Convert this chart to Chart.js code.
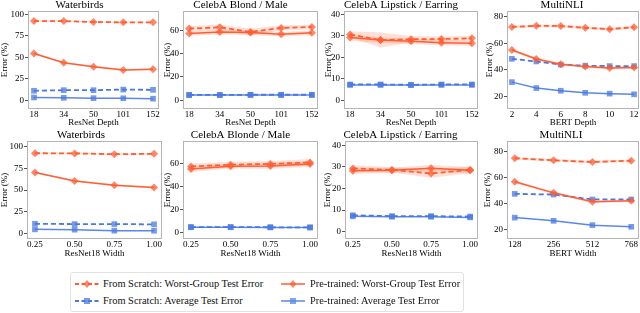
<!DOCTYPE html>
<html>
<head>
<meta charset="utf-8">
<script src="https://cdn.jsdelivr.net/npm/chart.js@4.4.0/dist/chart.umd.min.js"></script>
<style>
body { margin: 0; width: 640px; height: 313px; background: #fff; position: relative; overflow: hidden; font-family: "Liberation Serif", serif; }
canvas { position: absolute; }
#legend { position: absolute; left: 70px; top: 272px; width: 392px; height: 38px; border: 1px solid #e2e2e2; border-radius: 3px; }
.sym { position: absolute; }
.txt { position: absolute; font-size: 10.4px; line-height: 12px; color: #111; white-space: nowrap; }
</style>
</head>
<body>
<canvas id="c1"></canvas>
<canvas id="c2"></canvas>
<canvas id="c3"></canvas>
<canvas id="c4"></canvas>
<canvas id="c5"></canvas>
<canvas id="c6"></canvas>
<canvas id="c7"></canvas>
<canvas id="c8"></canvas>
<div id="legend">
  <svg class="sym" style="left:4px;top:6px" width="24" height="10"><line x1="0" y1="5" x2="24" y2="5" stroke="#ff5e33" stroke-width="1.8" stroke-dasharray="4,2.5"/><polygon points="12,1 15.5,5 12,9 8.5,5" fill="rgba(255,94,51,0.75)"/></svg>
  <span class="txt" style="left:32px;top:5px">From Scratch: Worst-Group Test Error</span>
  <svg class="sym" style="left:210px;top:6px" width="24" height="10"><line x1="0" y1="5" x2="24" y2="5" stroke="#ff5e33" stroke-width="1.5"/><polygon points="12,1 15.5,5 12,9 8.5,5" fill="rgba(255,94,51,0.75)"/></svg>
  <span class="txt" style="left:239px;top:5px">Pre-trained: Worst-Group Test Error</span>
  <svg class="sym" style="left:4px;top:23px" width="24" height="10"><line x1="0" y1="5" x2="24" y2="5" stroke="#4a78e0" stroke-width="1.8" stroke-dasharray="4,2.5"/><rect x="9" y="2" width="6" height="6" fill="rgba(74,120,224,0.75)"/></svg>
  <span class="txt" style="left:32px;top:22px">From Scratch: Average Test Error</span>
  <svg class="sym" style="left:210px;top:23px" width="24" height="10"><line x1="0" y1="5" x2="24" y2="5" stroke="#5b86ea" stroke-width="1.5"/><rect x="9" y="2" width="6" height="6" fill="rgba(91,134,234,0.75)"/></svg>
  <span class="txt" style="left:239px;top:22px">Pre-trained: Average Test Error</span>
</div>
<script>
// x tick labels
const depthLabels = ['18', '34', '50', '101', '152'];
const bertDepthLabels = ['2', '4', '6', '8', '10', '12'];
const widthLabels = ['0.25', '0.50', '0.75', '1.00'];
const bertWidthLabels = ['128', '256', '512', '768'];

// Waterbirds, ResNet depth
const wbDepthScratchWorst = [92.3, 92.3, 91.2, 90.8, 90.8];
const wbDepthPreWorst = [54.6, 43.8, 39.2, 35.4, 36.2];
const wbDepthScratchAvg = [11.2, 11.9, 11.9, 12.6, 12.3];
const wbDepthPreAvg = [3.4, 3, 2.6, 2.5, 2];
const wbDepthScratchSd = [1, 1, 1, 1, 1];
const wbDepthPreSd = [1.2, 1, 1, 1, 1];

// CelebA Blond / Male, ResNet depth
const cbDepthScratchWorst = [61.4, 62.5, 58.6, 62, 62.8];
const cbDepthPreWorst = [57.2, 58.4, 58, 56.6, 57.8];
const cbDepthScratchAvg = [4.6, 4.6, 4.7, 4.7, 4.7];
const cbDepthPreAvg = [4.4, 4.4, 4.5, 4.5, 4.5];
const cbDepthScratchSd = [2, 2.5, 3, 2, 2];
const cbDepthPreSd = [2, 2, 2, 2, 2];

// CelebA Lipstick / Earring, ResNet depth
const clDepthScratchWorst = [30.6, 28, 28.4, 28.5, 28.8];
const clDepthPreWorst = [29.2, 28, 27.4, 26.8, 26.5];
const clDepthScratchAvg = [7.4, 7.4, 7.2, 7.4, 7.4];
const clDepthPreAvg = [7.2, 7.2, 7.1, 7.2, 7.2];
const clDepthScratchSd = [1.5, 3.5, 1.5, 1.2, 1.2];
const clDepthPreSd = [1.5, 1.2, 1.2, 1.2, 1.2];

// MultiNLI, BERT depth
const mnDepthScratchWorst = [72.5, 73.3, 73.2, 71.8, 70.8, 72.3];
const mnDepthPreWorst = [55, 48.3, 44.3, 42.5, 41.4, 41.9];
const mnDepthScratchAvg = [48.4, 46.4, 44, 43.2, 42.9, 42.9];
const mnDepthPreAvg = [30.8, 26.3, 24.3, 22.7, 22.1, 21.6];
const mnDepthScratchSd = [1, 1, 1, 1, 1, 1];
const mnDepthPreSd = [1, 1, 1, 1, 1, 1];

// Waterbirds, ResNet18 width
const wbWidthScratchWorst = [92.4, 92.2, 91.3, 91.7];
const wbWidthPreWorst = [70.3, 60.5, 55.5, 52.9];
const wbWidthScratchAvg = [11.1, 10.7, 10.7, 10.4];
const wbWidthPreAvg = [4.6, 4.2, 3.1, 3];
const wbWidthScratchSd = [1, 1, 1, 1];
const wbWidthPreSd = [1, 1, 1, 1.2];

// CelebA Blonde / Male, ResNet18 width
const cbWidthScratchWorst = [57.4, 58.9, 59.6, 60.9];
const cbWidthPreWorst = [55.1, 57.6, 57.8, 59.4];
const cbWidthScratchAvg = [4.7, 4.7, 4.5, 4.4];
const cbWidthPreAvg = [4.5, 4.5, 4.4, 4.3];
const cbWidthScratchSd = [2.5, 2.5, 2.5, 3];
const cbWidthPreSd = [2.5, 2, 2.5, 2.5];

// CelebA Lipstick / Earring, ResNet18 width
const clWidthScratchWorst = [29.3, 28.6, 27, 28.6];
const clWidthPreWorst = [28.2, 28.4, 29.4, 28.4];
const clWidthScratchAvg = [7.6, 7.2, 7.2, 7];
const clWidthPreAvg = [7.1, 6.9, 6.9, 6.6];
const clWidthScratchSd = [1.5, 1.2, 2, 1.5];
const clWidthPreSd = [1.5, 1.2, 1.5, 1.5];

// MultiNLI, BERT width
const mnWidthScratchWorst = [74.9, 73.3, 72, 73];
const mnWidthPreWorst = [56.8, 48.2, 41.3, 42.1];
const mnWidthScratchAvg = [47.4, 46.9, 43.1, 43.1];
const mnWidthPreAvg = [29.1, 26.6, 23.3, 22];
const mnWidthScratchSd = [1, 1, 1, 1];
const mnWidthPreSd = [1, 1, 1, 1];

const ORANGE = '#ff5e33';
const ORANGE_PT = 'rgba(255,94,51,0.75)';
const BAND = 'rgba(255,110,70,0.22)';
const BLUE = '#4a78e0';
const BLUE2 = '#5b86ea';
const BLUE_PT = 'rgba(74,120,224,0.75)';
const FONT = 'Liberation Serif';

const panels = [
  { id: 'c1', title: 'Waterbirds', xTitle: 'ResNet Depth', labels: depthLabels, yTicks: [0, 25, 50, 75, 100], yMin: -10, yMax: 104,
    sw: wbDepthScratchWorst, pw: wbDepthPreWorst, sa: wbDepthScratchAvg, pa: wbDepthPreAvg, ssd: wbDepthScratchSd, psd: wbDepthPreSd },
  { id: 'c2', title: 'CelebA Blond / Male', xTitle: 'ResNet Depth', labels: depthLabels, yTicks: [0, 20, 40, 60], yMin: -7.5, yMax: 76.5,
    sw: cbDepthScratchWorst, pw: cbDepthPreWorst, sa: cbDepthScratchAvg, pa: cbDepthPreAvg, ssd: cbDepthScratchSd, psd: cbDepthPreSd },
  { id: 'c3', title: 'CelebA Lipstick / Earring', xTitle: 'ResNet Depth', labels: depthLabels, yTicks: [0, 10, 20, 30, 40], yMin: -4, yMax: 41.5,
    sw: clDepthScratchWorst, pw: clDepthPreWorst, sa: clDepthScratchAvg, pa: clDepthPreAvg, ssd: clDepthScratchSd, psd: clDepthPreSd },
  { id: 'c4', title: 'MultiNLI', xTitle: 'BERT Depth', labels: bertDepthLabels, yTicks: [20, 40, 60, 80], yMin: 10.5, yMax: 84.5,
    sw: mnDepthScratchWorst, pw: mnDepthPreWorst, sa: mnDepthScratchAvg, pa: mnDepthPreAvg, ssd: mnDepthScratchSd, psd: mnDepthPreSd },
  { id: 'c5', title: 'Waterbirds', xTitle: 'ResNet18 Width', labels: widthLabels, yTicks: [0, 25, 50, 75, 100], yMin: -6.5, yMax: 106.5,
    sw: wbWidthScratchWorst, pw: wbWidthPreWorst, sa: wbWidthScratchAvg, pa: wbWidthPreAvg, ssd: wbWidthScratchSd, psd: wbWidthPreSd },
  { id: 'c6', title: 'CelebA Blonde / Male', xTitle: 'ResNet18 Width', labels: widthLabels, yTicks: [0, 20, 40, 60], yMin: -5.7, yMax: 79.5,
    sw: cbWidthScratchWorst, pw: cbWidthPreWorst, sa: cbWidthScratchAvg, pa: cbWidthPreAvg, ssd: cbWidthScratchSd, psd: cbWidthPreSd },
  { id: 'c7', title: 'CelebA Lipstick / Earring', xTitle: 'ResNet18 Width', labels: widthLabels, yTicks: [0, 10, 20, 30, 40], yMin: -3.4, yMax: 42,
    sw: clWidthScratchWorst, pw: clWidthPreWorst, sa: clWidthScratchAvg, pa: clWidthPreAvg, ssd: clWidthScratchSd, psd: clWidthPreSd },
  { id: 'c8', title: 'MultiNLI', xTitle: 'BERT Width', labels: bertWidthLabels, yTicks: [20, 40, 60, 80], yMin: 12.6, yMax: 88.2,
    sw: mnWidthScratchWorst, pw: mnWidthPreWorst, sa: mnWidthScratchAvg, pa: mnWidthPreAvg, ssd: mnWidthScratchSd, psd: mnWidthPreSd }
];

// frame position of each panel: left, right, top, bottom, y-axis width, x-axis height
const frames = [
  [28, 159, 11, 109, 28, 18], [183, 318, 11, 109, 20, 18], [344, 478, 11, 109, 20, 18], [507, 639, 11, 109, 22, 18],
  [27, 162, 141, 239, 27, 19], [183, 318, 141, 239, 20, 19], [345, 478, 141, 239, 22, 19], [507, 639, 141, 239, 24, 19]
];

const framePlugin = {
  id: 'frame',
  afterDraw(chart) {
    const a = chart.chartArea, ctx = chart.ctx;
    ctx.save();
    ctx.strokeStyle = '#b4b4b4';
    ctx.lineWidth = 1;
    ctx.strokeRect(Math.round(a.left) + 0.5, Math.round(a.top) + 0.5, Math.round(a.right - a.left) - 1, Math.round(a.bottom - a.top) - 1);
    ctx.restore();
  }
};

function pts(arr) { return arr.map((v, i) => ({ x: i, y: v })); }

function lineSet(arr, color, ptColor, dashed, style) {
  return {
    data: pts(arr), borderColor: color, borderWidth: dashed ? 1.8 : 1.5, borderDash: dashed ? [5, 3] : [],
    pointStyle: style, pointRadius: 4, pointHoverRadius: 4, pointBackgroundColor: ptColor, pointBorderWidth: 0,
    fill: false, tension: 0
  };
}

function bandSets(arr, sd) {
  return [
    { data: pts(arr.map((v, i) => v + sd[i])), borderWidth: 0, pointRadius: 0, fill: false },
    { data: pts(arr.map((v, i) => v - sd[i])), borderWidth: 0, pointRadius: 0, fill: '-1', backgroundColor: BAND }
  ];
}

panels.forEach((p, k) => {
  const [fl, fr, ft, fb, yw, xh] = frames[k];
  const cv = document.getElementById(p.id);
  const w = yw + (fr - fl) + 6;
  const h = 11 + (fb - ft) + xh;
  cv.width = w; cv.height = h;
  cv.style.left = (fl - yw) + 'px';
  cv.style.top = (ft - 11) + 'px';
  const n = p.labels.length;
  const labels = p.labels;
  const yTicks = p.yTicks;
  new Chart(cv, {
    type: 'line',
    data: {
      datasets: [
        lineSet(p.sw, ORANGE, ORANGE_PT, true, 'rectRot'),
        lineSet(p.pw, ORANGE, ORANGE_PT, false, 'rectRot'),
        lineSet(p.sa, BLUE, BLUE_PT, true, 'rect'),
        lineSet(p.pa, BLUE2, BLUE_PT, false, 'rect'),
        ...bandSets(p.sw, p.ssd),
        ...bandSets(p.pw, p.psd)
      ]
    },
    options: {
      responsive: false,
      animation: false,
      layout: { padding: { left: 0, right: 6, top: 0, bottom: 0 } },
      plugins: {
        legend: { display: false },
        tooltip: { enabled: false },
        title: { display: true, text: p.title, color: '#000', padding: 0,
                 font: { family: FONT, size: 11, weight: 'normal', lineHeight: 1 } }
      },
      scales: {
        x: {
          type: 'linear', min: -0.2, max: n - 1 + 0.2,
          afterBuildTicks: s => { s.ticks = labels.map((_, i) => ({ value: i })); },
          afterFit: s => { s.height = xh; s.paddingLeft = 0; s.paddingRight = 0; },
          ticks: { callback: (v, i) => labels[i], color: '#000', padding: 1, maxRotation: 0, autoSkip: false,
                   font: { family: FONT, size: 9, lineHeight: 1 } },
          grid: { drawOnChartArea: false, drawTicks: false },
          border: { display: false },
          title: { display: true, text: p.xTitle, color: '#000', padding: 0, font: { family: FONT, size: 9, lineHeight: 1 } }
        },
        y: {
          min: p.yMin, max: p.yMax,
          afterBuildTicks: s => { s.ticks = yTicks.map(v => ({ value: v })); },
          afterFit: s => { s.width = yw; s.paddingTop = 0; s.paddingBottom = 0; },
          ticks: { color: '#000', padding: 1, font: { family: FONT, size: 9, lineHeight: 1 } },
          grid: { drawOnChartArea: false, tickLength: 3, color: '#555' },
          border: { display: false },
          title: { display: true, text: 'Error (%)', color: '#000', padding: 0, font: { family: FONT, size: 9, lineHeight: 1 } }
        }
      }
    },
    plugins: [framePlugin]
  });
});
</script>
</body>
</html>
